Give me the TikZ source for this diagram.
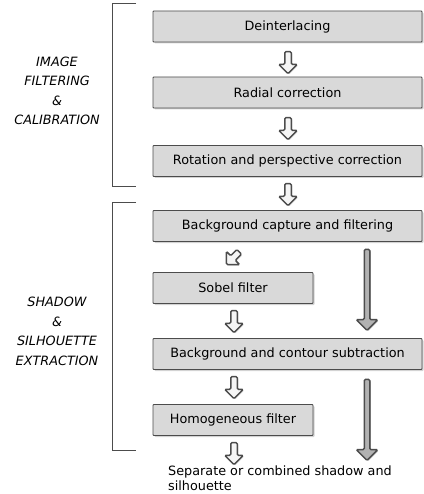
\documentclass[tikz,border=0pt]{standalone}
\usepackage{fontspec}
\setmainfont{DejaVu Sans}
\usetikzlibrary{shapes.arrows,shadows}

\begin{document}
\begin{tikzpicture}[x=1pt,y=-1pt,
    stage/.style={rectangle,draw=black!70,fill=black!15,line width=0.8pt,
        rounded corners=0.8pt,minimum height=31pt,inner sep=0pt,
        font=\fontsize{12.8}{15}\selectfont,
        drop shadow={shadow xshift=1.5pt,shadow yshift=-1.5pt,opacity=0.35}},
    flow/.style={single arrow,draw=black!70,fill=black!4,line width=1.5pt,
        rounded corners=1.2pt,minimum height=22pt,inner xsep=0pt,inner ysep=2.5pt,
        single arrow head extend=6pt,
        drop shadow={shadow xshift=1pt,shadow yshift=-1pt,opacity=0.3}},
    bypass/.style={flow,fill=black!30,inner ysep=2pt,minimum height=81pt,
        single arrow head extend=8pt},
    group/.style={align=center,font=\fontsize{12.8}{19.5}\selectfont\itshape}]
\useasboundingbox (0,0) rectangle (423,494);

\begin{scope}[every node/.style={stage}]
    \node[minimum width=269pt] (deint) at (287.5,26.5) {Deinterlacing};
    \node[minimum width=269pt] (radial) at (287.5,92.5) {Radial correction};
    \node[minimum width=269pt] (rotation) at (287.5,161) {Rotation and perspective correction};
    \node[minimum width=269pt] (capture) at (287.5,226) {Background capture and filtering};
    \node[minimum width=160pt] (sobel) at (233,288) {Sobel filter};
    \node[minimum width=269pt] (subtract) at (287.5,354) {Background and contour subtraction};
    \node[minimum width=160pt] (homog) at (233,420) {Homogeneous filter};
\end{scope}

\begin{scope}[every node/.style={flow}]
    \node[rotate=-90] (a1) at (288,61) {};
    \node[rotate=-90] (a2) at (288,127) {};
    \node[rotate=-90] (a3) at (288,193) {};
    \node[rotate=-135,minimum height=18pt] (a4) at (234,257) {};
    \node[rotate=-90] (a5) at (234,320) {};
    \node[rotate=-90] (a6) at (234,386) {};
    \node[rotate=-90] (a7) at (234,452) {};
    \node[bypass,rotate=-90] (b1) at (367,288.5) {};
    \node[bypass,rotate=-90] (b2) at (367,418.5) {};
\end{scope}

\node[anchor=north west,align=left,inner sep=0pt,
      font=\fontsize{12.8}{14.5}\selectfont] (result) at (168,466)
    {Separate or combined shadow and\\silhouette};

\node[group] (calib) at (57,91) {IMAGE\\FILTERING\\\&\\CALIBRATION};
\node[group] (extract) at (57,331.5) {SHADOW\\\&\\SILHOUETTE\\EXTRACTION};

\draw[black!70,line width=0.6pt] (136,3) -- (112,3) -- (112,186) -- (136,186);
\draw[black!70,line width=0.6pt] (136,202) -- (112,202) -- (112,450) -- (136,450);
\end{tikzpicture}
\end{document}
